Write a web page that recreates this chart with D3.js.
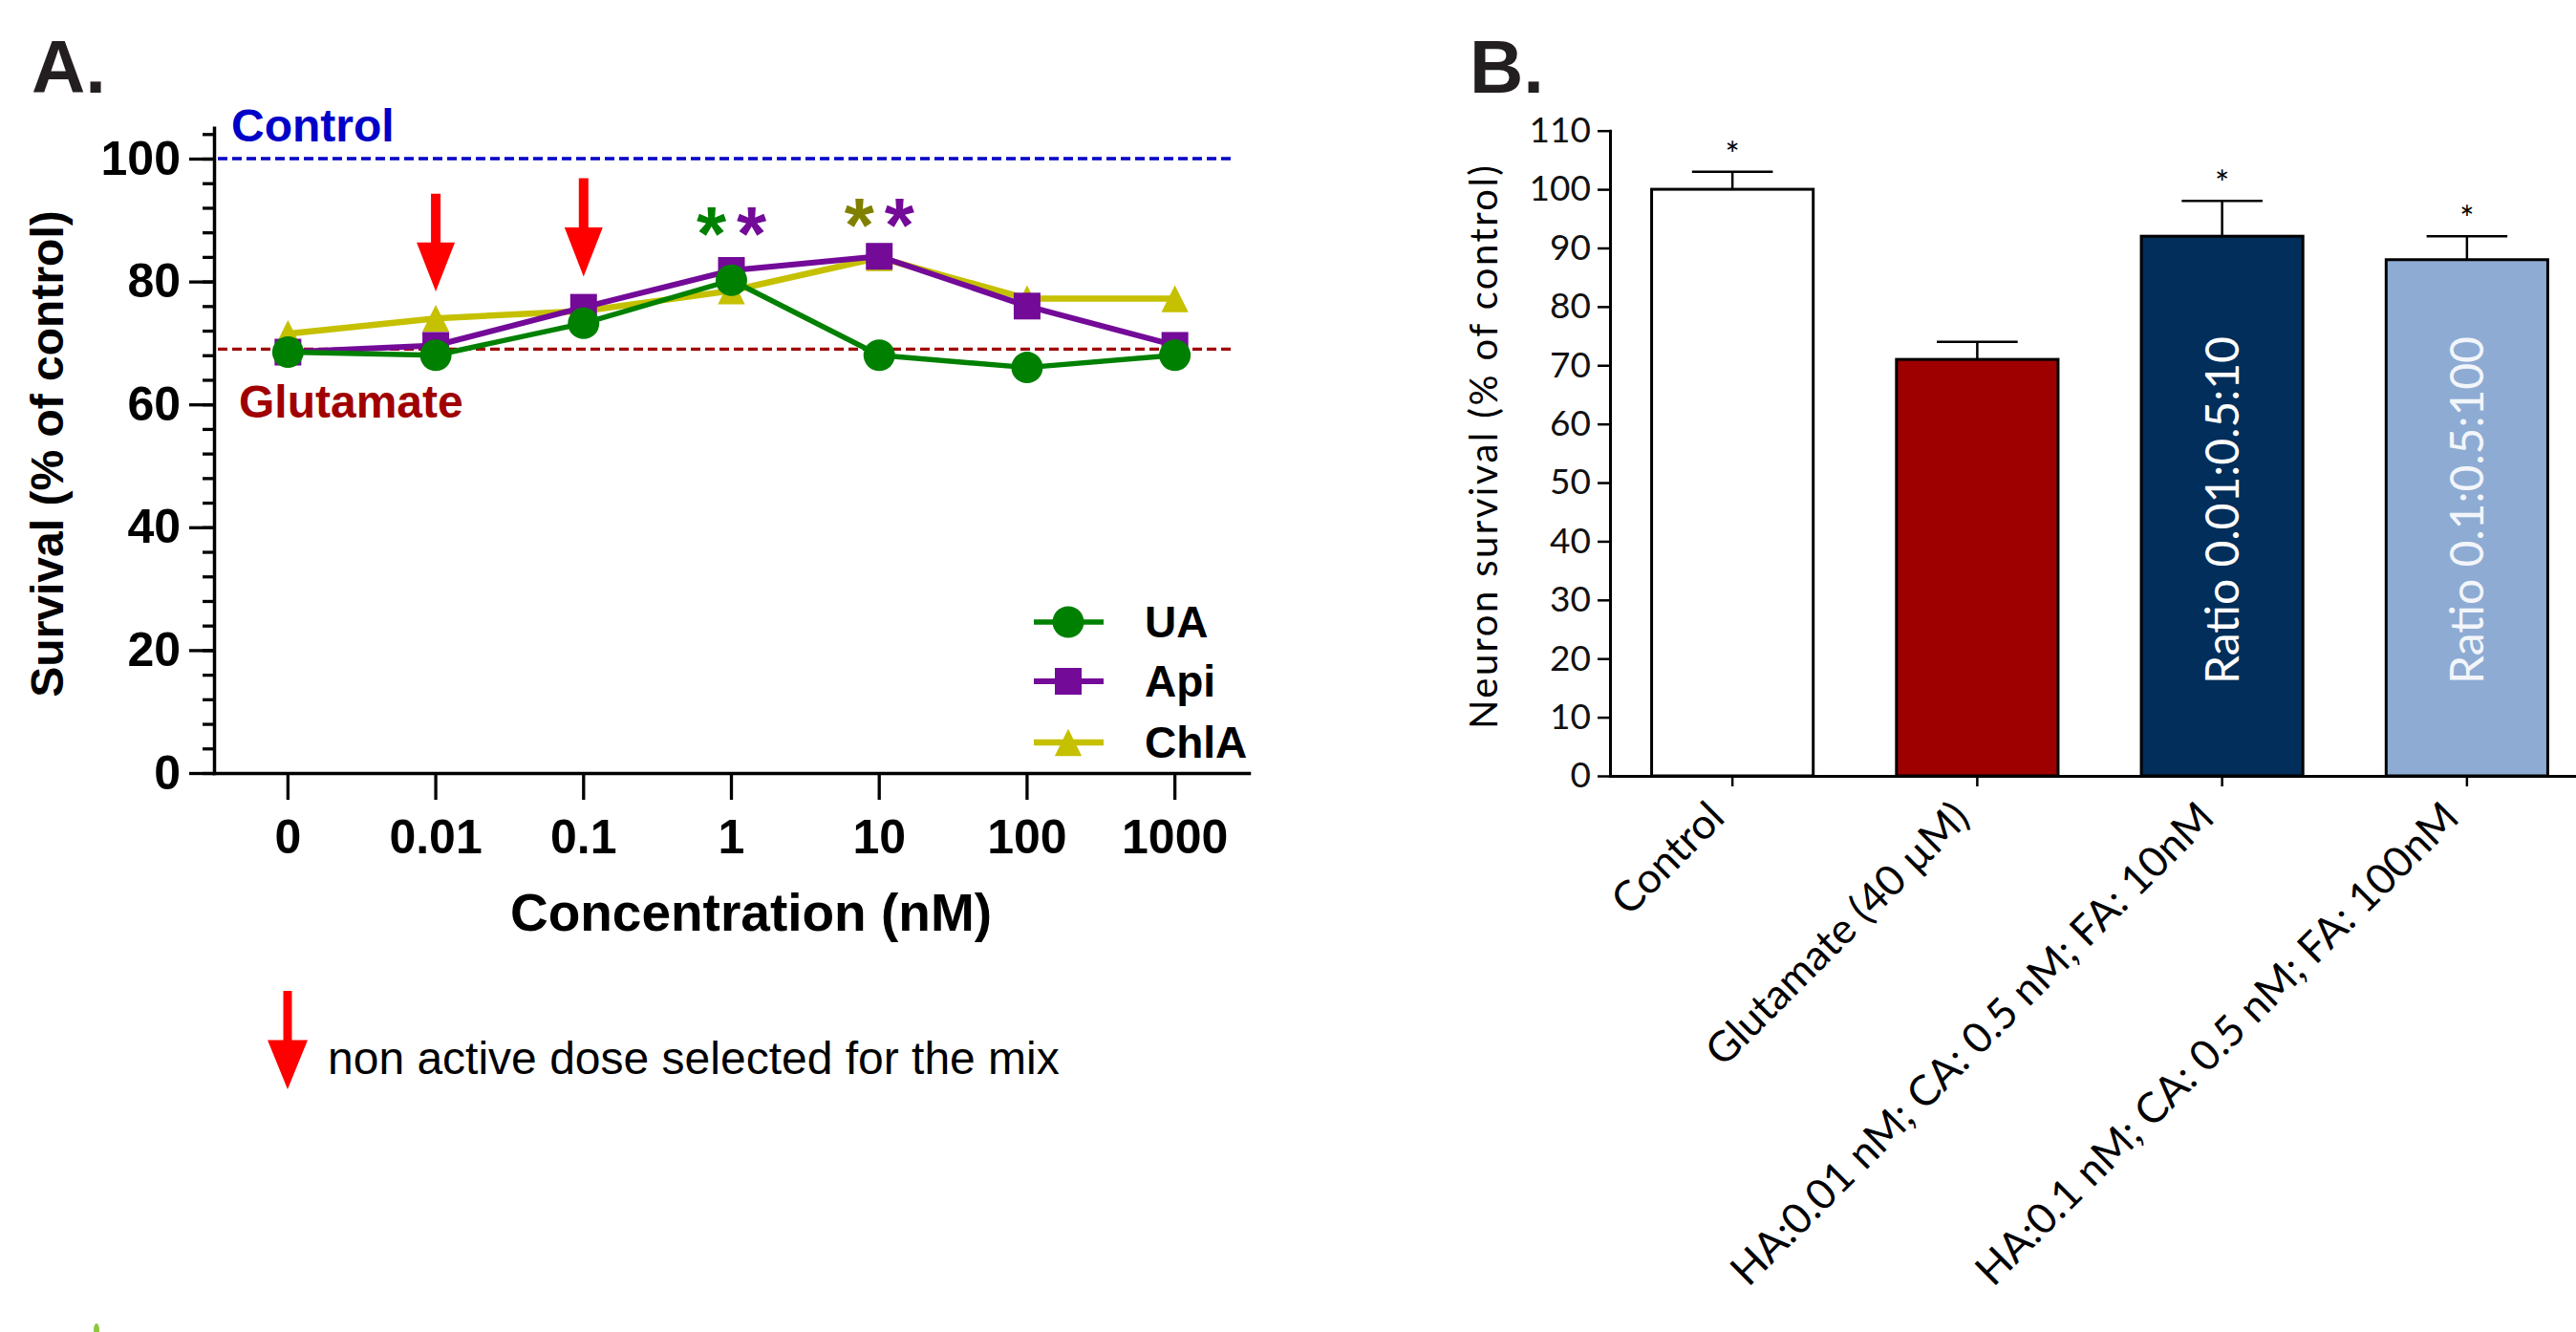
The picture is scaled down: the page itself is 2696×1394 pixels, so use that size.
<!DOCTYPE html>
<html>
<head>
<meta charset="utf-8">
<script src="https://cdn.jsdelivr.net/npm/d3@7"></script>
<style>
  html, body { margin: 0; padding: 0; background: #fff; }
  svg { display: block; }
</style>
</head>
<body>
<div id="chart"></div>
<script>
// Panel A: survival vs concentration for the three compounds
const concentrations = ["0", "0.01", "0.1", "1", "10", "100", "1000"];
const uaValues = [68.5, 68.0, 73.2, 80.2, 68.0, 66.0, 68.0];
const apiValues = [68.5, 69.6, 75.8, 81.8, 84.1, 76.0, 69.6];
const chlaValues = [71.5, 74.0, 75.2, 78.5, 83.9, 77.2, 77.2];
const yTicksA = [0, 20, 40, 60, 80, 100];
const yMinorA = d3.range(0, 105, 4);
const controlLevel = 100;
const glutamateLevel = 69;

// red arrows: doses chosen for the mix
const arrowDoses = ["0.01", "0.1"];
const arrowTop = [94.3, 96.8];
const arrowTip = [78.4, 80.8];

// significance stars
const starDoses = ["1", "1", "10", "10"];
const starLevel = [90.6, 90.6, 92.1, 92.1];
const starSide = [-1, 1, -1, 1];
const starColors = ["#008000", "#730a98", "#808000", "#730a98"];

// Panel B: neuron survival for the mixtures
const groups = [
  "Control",
  "Glutamate (40 µM)",
  "HA:0.01 nM; CA: 0.5 nM; FA: 10nM",
  "HA:0.1 nM; CA: 0.5 nM; FA: 100nM"
];
const survival = [100, 71, 92, 88];
const sem = [3, 3, 6, 4];
const significant = [true, false, true, true];
const barText = ["", "", "Ratio 0.01:0.5:10", "Ratio 0.1:0.5:100"];
const yTicksB = d3.range(0, 111, 10);

const W = 2696, H = 1394;
const ARIAL = "'Liberation Sans', Arial, sans-serif";
const CAL = "Lato, 'Open Sans', sans-serif";

const svg = d3.select("#chart").append("svg")
  .attr("width", W).attr("height", H)
  .attr("viewBox", `0 0 ${W} ${H}`);
svg.append("rect").attr("width", W).attr("height", H).attr("fill", "#fff");

// ---------- Panel A ----------
const colA = { UA: "#008000", Api: "#730a98", ChlA: "#c5c000" };
const yA = d3.scaleLinear().domain([0, 105]).range([809, 809 - 105 * 6.43]);
const xA = d3.scaleBand().domain(concentrations).range([224, 1307]);
const cx = d => xA(d) + xA.bandwidth() / 2;

svg.append("text").attr("x", 33).attr("y", 97)
  .style("font-family", ARIAL).style("font-weight", "bold").style("font-size", "78px")
  .attr("fill", "#231f20").text("A.");

// reference lines
const refLines = [
  { v: controlLevel, color: "#0000c8", label: "Control", lx: 242, ly: 148 },
  { v: glutamateLevel, color: "#a00000", label: "Glutamate", lx: 250, ly: 437 }
];
refLines.forEach(r => {
  svg.append("line")
    .attr("x1", 228).attr("x2", 1290)
    .attr("y1", yA(r.v)).attr("y2", yA(r.v))
    .attr("stroke", r.color).attr("stroke-width", 3.3)
    .attr("stroke-dasharray", "10,5");
  svg.append("text").attr("x", r.lx).attr("y", r.ly)
    .style("font-family", ARIAL).style("font-weight", "bold").style("font-size", "48px")
    .attr("fill", r.color).text(r.label);
});

// axes
const gyA = svg.append("g").attr("transform", "translate(224,0)")
  .call(d3.axisLeft(yA).tickValues(yTicksA).tickSize(26).tickSizeOuter(0).tickPadding(9));
svg.append("g").attr("transform", "translate(224,0)")
  .call(d3.axisLeft(yA).tickValues(yMinorA).tickSize(12).tickSizeOuter(0).tickFormat(""))
  .call(g => g.select(".domain").remove())
  .selectAll("line").attr("stroke", "#000").attr("stroke-width", 3.3);
const gxA = svg.append("g").attr("transform", "translate(0,809)")
  .call(d3.axisBottom(xA).tickSize(28).tickSizeOuter(0).tickPadding(20));
[gyA, gxA].forEach(g => {
  g.select(".domain").attr("stroke", "#000").attr("stroke-width", 3.5).attr("stroke-linecap", "square");
  g.selectAll(".tick line").attr("stroke", "#000").attr("stroke-width", 3.3);
  g.selectAll(".tick text")
    .style("font-family", ARIAL).style("font-weight", "bold").style("font-size", "50px")
    .attr("fill", "#000");
});

svg.append("text")
  .attr("transform", "translate(66,475) rotate(-90)")
  .attr("text-anchor", "middle")
  .style("font-family", ARIAL).style("font-weight", "bold").style("font-size", "48px")
  .text("Survival (% of control)");
svg.append("text").attr("x", 786).attr("y", 974).attr("text-anchor", "middle")
  .style("font-family", ARIAL).style("font-weight", "bold").style("font-size", "55px")
  .text("Concentration (nM)");

// series: yellow under purple under green
const triangle = {
  draw(ctx, size) {
    const w = Math.sqrt(size);
    ctx.moveTo(0, -w / 2);
    ctx.lineTo(w / 2, w / 2);
    ctx.lineTo(-w / 2, w / 2);
    ctx.closePath();
  }
};
const series = [
  { name: "ChlA", values: chlaValues, sym: triangle, size: 800, width: 6.5 },
  { name: "Api", values: apiValues, sym: d3.symbolSquare, size: 784, width: 6 },
  { name: "UA", values: uaValues, sym: d3.symbolCircle, size: 855, width: 5.5 }
];
const line = d3.line().x((d, i) => cx(concentrations[i])).y(d => yA(d));
series.forEach(s => {
  const g = svg.append("g");
  g.append("path").datum(s.values).attr("d", line)
    .attr("fill", "none").attr("stroke", colA[s.name]).attr("stroke-width", s.width)
    .attr("stroke-linejoin", "round");
  g.selectAll("path.pt").data(s.values).enter().append("path").attr("class", "pt")
    .attr("transform", (d, i) => `translate(${cx(concentrations[i])},${yA(d)})`)
    .attr("d", d3.symbol().type(s.sym).size(s.size))
    .attr("fill", colA[s.name]);
});

// arrows
function arrow(x, y0, y1, shaft, headW) {
  const hy = (y0 + y1) / 2;
  return `M${x - shaft / 2},${y0}H${x + shaft / 2}V${hy}H${x + headW / 2}L${x},${y1}L${x - headW / 2},${hy}H${x - shaft / 2}Z`;
}
arrowDoses.forEach((d, i) => {
  svg.append("path").attr("d", arrow(cx(d), yA(arrowTop[i]), yA(arrowTip[i]), 10, 40))
    .attr("fill", "#ff0000");
});

// stars
starDoses.forEach((d, i) => {
  svg.append("text")
    .attr("x", cx(d) + starSide[i] * 21).attr("y", yA(starLevel[i]) + 46)
    .attr("text-anchor", "middle")
    .style("font-family", ARIAL).style("font-weight", "bold").style("font-size", "80px")
    .attr("fill", starColors[i]).text("*");
});

// legend
const legendY = [651, 713, 777];
const legendSeries = [series[2], series[1], series[0]];
legendSeries.forEach((s, i) => {
  const g = svg.append("g").attr("transform", `translate(0,${legendY[i]})`);
  g.append("line").attr("x1", 1082).attr("x2", 1155)
    .attr("stroke", colA[s.name]).attr("stroke-width", s.width);
  g.append("path").attr("transform", "translate(1118,0)")
    .attr("d", d3.symbol().type(s.sym).size(s.size)).attr("fill", colA[s.name]);
  g.append("text").attr("x", 1198).attr("y", 16)
    .style("font-family", ARIAL).style("font-weight", "bold").style("font-size", "46px")
    .text(s.name);
});

// note below panel A
svg.append("path").attr("d", arrow(301, 1037, 1140, 9, 42)).attr("fill", "#ff0000");
svg.append("text").attr("x", 343).attr("y", 1124)
  .style("font-family", ARIAL).style("font-size", "48px")
  .text("non active dose selected for the mix");
svg.append("ellipse").attr("cx", 101).attr("cy", 1392).attr("rx", 3).attr("ry", 7)
  .attr("fill", "#8dc63f");

// ---------- Panel B ----------
svg.append("text").attr("x", 1538).attr("y", 97)
  .style("font-family", ARIAL).style("font-weight", "bold").style("font-size", "78px")
  .attr("fill", "#231f20").text("B.");

const yB = d3.scaleLinear().domain([0, 110]).range([812, 136.7]);
const xB = d3.scaleBand().domain(groups).range([1685, 2710]).paddingInner(0.34).paddingOuter(0.17);
const bx = d => xB(d) + xB.bandwidth() / 2;

const barColors = ["#ffffff", "#9e0000", "#012e5a", "#8eabd3"];
const textColors = ["#fff", "#fff", "#ffffff", "#f2f5fa"];

svg.selectAll("rect.bar").data(groups).enter().append("rect").attr("class", "bar")
  .attr("x", d => xB(d)).attr("width", xB.bandwidth())
  .attr("y", (d, i) => yB(survival[i]))
  .attr("height", (d, i) => yB(0) - yB(survival[i]))
  .attr("fill", (d, i) => barColors[i])
  .attr("stroke", "#000").attr("stroke-width", 3);

// error bars, stars and inner labels
const capHalf = xB.bandwidth() / 4;
groups.forEach((d, i) => {
  const top = yB(survival[i] + sem[i]);
  const g = svg.append("g").attr("stroke", "#000").attr("stroke-width", 2.5);
  g.append("line").attr("x1", bx(d)).attr("x2", bx(d))
    .attr("y1", yB(survival[i])).attr("y2", top);
  g.append("line").attr("x1", bx(d) - capHalf).attr("x2", bx(d) + capHalf)
    .attr("y1", top).attr("y2", top);
  if (significant[i]) {
    svg.append("text").attr("x", bx(d)).attr("y", top - 5)
      .attr("text-anchor", "middle")
      .style("font-family", CAL).style("font-size", "36px").text("*");
  }
  if (barText[i]) {
    svg.append("text")
      .attr("transform", `translate(${bx(d) + 17},534) rotate(-90)`)
      .attr("text-anchor", "middle")
      .style("font-family", CAL).style("font-size", "48px")
      .attr("fill", textColors[i]).text(barText[i]);
  }
});

const gyB = svg.append("g").attr("transform", "translate(1685,0)")
  .call(d3.axisLeft(yB).tickValues(yTicksB).tickSize(13).tickSizeOuter(0).tickPadding(7));
gyB.selectAll(".tick text").style("font-family", CAL).style("font-size", "37px").attr("fill", "#111");
const gxB = svg.append("g").attr("transform", "translate(0,812)")
  .call(d3.axisBottom(xB).tickSize(11).tickSizeOuter(0).tickFormat(""));
[gyB, gxB].forEach(g => {
  g.select(".domain").attr("stroke", "#000").attr("stroke-width", 3).attr("stroke-linecap", "square");
  g.selectAll(".tick line").attr("stroke", "#000").attr("stroke-width", 2.5);
});

// rotated group labels (kept just inside the bottom edge)
svg.selectAll("text.glabel").data(groups).enter().append("text").attr("class", "glabel")
  .attr("transform", d => `translate(${bx(d) - 6},858) rotate(-45)`)
  .attr("text-anchor", "end")
  .style("font-family", CAL).style("font-size", "44px")
  .text(d => d);

svg.append("text")
  .attr("transform", "translate(1567,468) rotate(-90)")
  .attr("text-anchor", "middle")
  .attr("textLength", 590).attr("lengthAdjust", "spacing")
  .style("font-family", CAL).style("font-size", "40px")
  .text("Neuron survival (% of control)");
</script>
</body>
</html>
